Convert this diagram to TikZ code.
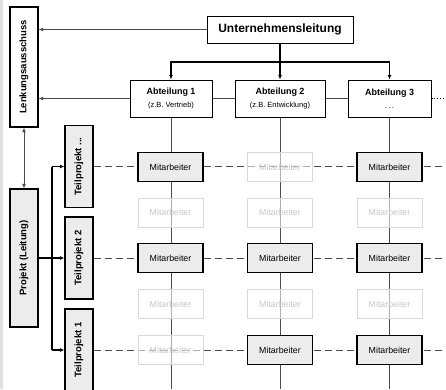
\documentclass[tikz,border=0pt]{standalone}
\usepackage{fontspec}
\setmainfont{Liberation Sans}
\usetikzlibrary{positioning,arrows.meta,backgrounds}
\definecolor{strip}{RGB}{226,221,232}

\begin{document}
\begin{tikzpicture}[x=1pt,y=-1pt,
    >={Latex[length=4.5pt,width=4pt]},
    org/.style={draw,line width=1pt,fill=white,align=center,inner sep=1pt},
    side/.style={draw,line width=1.2pt,fill=white,rotate=90,minimum height=28pt,inner sep=1pt,font=\fontsize{9.5}{10}\bfseries\selectfont},
    proj/.style={side,fill=gray!15},
    mitglied/.style={draw,line width=1.4pt,fill=gray!15,minimum width=65pt,minimum height=29pt,inner sep=0pt,font=\fontsize{8.8}{9}\selectfont},
    leer/.style={mitglied,draw=gray!30,line width=0.8pt,fill=white,fill opacity=0.55,text opacity=1,text=gray!45},
    link/.style={gray!60!black,line width=0.7pt},
    feed/.style={line width=1.1pt}
  ]
  \useasboundingbox (0,0) rectangle (446,389);
  \fill[strip] (0,0) rectangle (3,389);
  \coordinate (bottom) at (0,389);
  \coordinate (edge) at (446,0);
  \coordinate (fork) at (280,62);
  \coordinate (bar) at (52,0);

  \node[org,minimum width=146pt,minimum height=27pt,font=\fontsize{12}{13}\bfseries\selectfont] (ul) at (280,29.5) {Unternehmensleitung};
  \node[org,minimum width=82pt,minimum height=37pt] (a1) at (171,98.5)
    {{\fontsize{9}{10}\bfseries\selectfont Abteilung 1}\\[1pt]{\fontsize{7.5}{8}\selectfont (z.B. Vertrieb)}};
  \node[org,minimum width=90pt,minimum height=37pt] (a2) at (280,98.5)
    {{\fontsize{9}{10}\bfseries\selectfont Abteilung 2}\\[1pt]{\fontsize{7.5}{8}\selectfont (z.B. Entwicklung)}};
  \node[org,minimum width=83pt,minimum height=37pt] (a3) at (389.5,98.5)
    {{\fontsize{9}{10}\bfseries\selectfont Abteilung 3}\\[1pt]{\fontsize{8}{8}\selectfont .\,.\,.}};

  \node[side,minimum width=120pt] (lenk) at (24,67) {Lenkungsausschuss};
  \node[proj,minimum width=138pt] (pl) at (24,258) {Projekt (Leitung)};
  \node[proj,minimum width=82pt] (tp3) at (79,166.5) {Teilprojekt ...};
  \node[proj,minimum width=82pt] (tp2) at (79,258) {Teilprojekt 2};
  \node[proj,minimum width=82pt] (tp1) at (79,350) {Teilprojekt 1};

  \foreach \y/\sa/\sb/\sc [count=\r] in {167/mitglied/leer/mitglied, 212.5/leer/leer/leer,
      258/mitglied/mitglied/mitglied, 304/leer/leer/leer, 350/leer/mitglied/mitglied} {
    \node[\sa] (m\r-1) at (170.5,\y) {Mitarbeiter};
    \node[\sb] (m\r-2) at (280,\y) {Mitarbeiter};
    \node[\sc] (m\r-3) at (389.5,\y) {Mitarbeiter};
  }

  \begin{scope}[on background layer]
    \foreach \a in {a1,a2,a3}
      \draw[link,line width=0.9pt] (\a.south) -- (\a.south |- bottom);
    \foreach \t in {tp3,tp2,tp1}
      \draw[link,line width=1pt,dash pattern=on 7pt off 4pt] (\t.south) -- (\t.south -| edge);
    \draw[link] (a1.east) -- (a2.west);
    \draw[link] (a2.east) -- (a3.west);
    \draw[dotted,line width=0.9pt] (a3.east) -- (a3.east -| edge);
  \end{scope}

  \draw[link,->] (ul.west) -- (ul.west -| lenk.south);
  \draw[link,->] (a1.west) -- (a1.west -| lenk.south);
  \draw[link,<->] (lenk.west) -- (pl.east);

  \draw[feed,->] (ul.south) -- (fork) -| (a1.north);
  \draw[feed,->] (fork) -| (a3.north);
  \draw[feed,->] (fork) -- (a2.north);

  \draw[feed,->] (pl.south) -- (tp2.north);
  \draw[feed] (bar |- tp3.north) -- (bar |- tp1.north);
  \draw[feed,->] (bar |- tp3.north) -- (tp3.north);
  \draw[feed,->] (bar |- tp1.north) -- (tp1.north);
\end{tikzpicture}
\end{document}
